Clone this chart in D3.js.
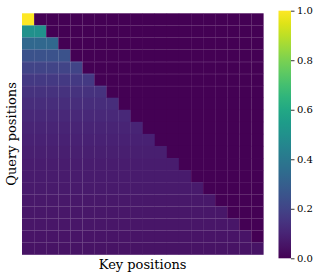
<!DOCTYPE html>
<html>
<head>
<meta charset="utf-8">
<script src="https://cdn.jsdelivr.net/npm/d3@7"></script>
<style>
  body { margin: 0; background: #fff; }
  text { font-family: "DejaVu Serif", serif; }
</style>
</head>
<body>
<svg id="chart" width="318" height="277"></svg>
<script>
// causal attention: each query spreads weight evenly over visible keys
const positions = d3.range(20);
const rowWeights = [1.0, 0.5, 0.333, 0.25, 0.2, 0.167, 0.143, 0.125, 0.111, 0.1,
  0.091, 0.083, 0.077, 0.071, 0.067, 0.0625, 0.059, 0.056, 0.053, 0.05];
const colorTicks = [0, 0.2, 0.4, 0.6, 0.8, 1.0];

// faint seams seen in the rendered image
const seamCols = [1, 2, 3, 4, 5, 14, 15, 16, 17, 18, 19];
const seamRows = [1, 2, 3, 4, 5, 6, 15, 16, 17, 18, 19];

const cells = [];
positions.forEach(i => positions.forEach(j => {
  cells.push({ row: i, col: j, value: j <= i ? rowWeights[i] : 0 });
}));

const svg = d3.select('#chart');

const x = d3.scaleBand().domain(positions).range([22, 263.3]);
const y = d3.scaleBand().domain(positions).range([13.3, 254.5]);
const color = d3.scaleSequential(d3.interpolateViridis).domain([0, 1]);

svg.append('g')
  .selectAll('rect')
  .data(cells)
  .enter()
  .append('rect')
  .attr('x', d => x(d.col))
  .attr('y', d => y(d.row))
  .attr('width', x.bandwidth() + 0.3)
  .attr('height', y.bandwidth() + 0.3)
  .attr('fill', d => color(d.value));

const seams = svg.append('g')
  .attr('stroke', '#fff')
  .attr('stroke-opacity', 0.07)
  .attr('stroke-width', 1);

seams.selectAll('.vcol')
  .data(seamCols)
  .enter()
  .append('line')
  .attr('x1', d => Math.round(x(d)) + 0.5)
  .attr('x2', d => Math.round(x(d)) + 0.5)
  .attr('y1', y.range()[0])
  .attr('y2', y.range()[1]);

seams.selectAll('.hrow')
  .data(seamRows)
  .enter()
  .append('line')
  .attr('y1', d => Math.round(y(d)) + 0.5)
  .attr('y2', d => Math.round(y(d)) + 0.5)
  .attr('x1', x.range()[0])
  .attr('x2', x.range()[1]);

svg.append('text')
  .attr('x', (x.range()[0] + x.range()[1]) / 2)
  .attr('y', 269)
  .attr('text-anchor', 'middle')
  .style('font-size', '13px')
  .text('Key positions');

svg.append('text')
  .attr('transform', `translate(16, ${(y.range()[0] + y.range()[1]) / 2}) rotate(-90)`)
  .attr('text-anchor', 'middle')
  .style('font-size', '13px')
  .text('Query positions');

// colorbar
const cbX = 278.5;
const cbW = 12.5;
const cbScale = d3.scaleLinear().domain([0, 1]).range([258.3, 10.7]);

const defs = svg.append('defs');
const grad = defs.append('linearGradient')
  .attr('id', 'cbgrad')
  .attr('x1', 0).attr('y1', 1).attr('x2', 0).attr('y2', 0);
grad.selectAll('stop')
  .data(d3.range(0, 1.0001, 0.05))
  .enter()
  .append('stop')
  .attr('offset', d => d)
  .attr('stop-color', d => color(d));

svg.append('rect')
  .attr('x', cbX)
  .attr('y', cbScale(1))
  .attr('width', cbW)
  .attr('height', cbScale(0) - cbScale(1))
  .attr('fill', 'url(#cbgrad)');

const cbAxis = svg.append('g')
  .attr('transform', `translate(${cbX + cbW}, 0)`)
  .call(d3.axisRight(cbScale)
    .tickValues(colorTicks)
    .tickFormat(d3.format('.1f'))
    .tickSize(3.5)
    .tickPadding(2.5));

cbAxis.select('.domain').remove();
cbAxis.selectAll('text')
  .style('font-family', '"DejaVu Serif", serif')
  .style('font-size', '10px')
  .attr('fill', '#000');
cbAxis.selectAll('line').attr('stroke', '#000').attr('stroke-width', 0.8);
</script>
</body>
</html>
